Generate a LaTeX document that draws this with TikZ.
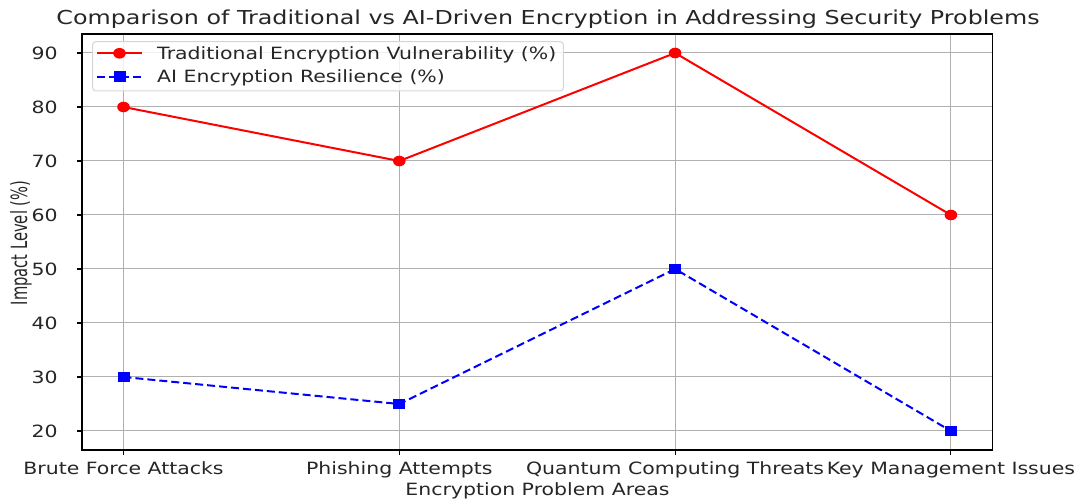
\documentclass[tikz,border=0pt]{standalone}
\usepackage{fontspec}
\setmainfont{DejaVu Sans}
\usepackage{graphicx}
\usetikzlibrary{positioning}

\definecolor{gridgray}{RGB}{176,176,176}
\definecolor{legendedge}{RGB}{214,214,214}
\tikzset{
  gridline/.style={draw=gridgray, line width=1pt},
  frameline/.style={draw=black, line width=1.3pt},
  tickmark/.style={draw=black, line width=1.1pt},
  trad/.style={draw=red, line width=2pt},
  res/.style={draw=blue, line width=2pt, dash pattern=on 8pt off 4pt},
  ticklab/.style={font=\fontsize{16.9}{20}\selectfont, text=black!85, inner sep=0pt, xscale=1.21},
  ylablab/.style={font=\fontsize{16.9}{20}\selectfont, text=black!85, inner sep=0pt, xscale=1.15, rotate=90},
  titlelab/.style={font=\fontsize{19.2}{23}\selectfont, text=black!85, inner sep=0pt, xscale=1.24},
}

\begin{document}
\begin{tikzpicture}[x=1pt, y=1pt]
\useasboundingbox (0,0) rectangle (1076,498);
\begin {scope} [xshift=123.5pt, yshift=-41pt, x=275.8pt, y=5.4pt]
  % grid
  \draw [gridline] (0,16.5) -- (0,93.5);
  \draw [gridline] (1,16.5) -- (1,93.5);
  \draw [gridline] (2,16.5) -- (2,93.5);
  \draw [gridline] (3,16.5) -- (3,93.5);
  \draw [gridline] (-0.15,20) -- (3.15,20);
  \draw [gridline] (-0.15,30) -- (3.15,30);
  \draw [gridline] (-0.15,40) -- (3.15,40);
  \draw [gridline] (-0.15,50) -- (3.15,50);
  \draw [gridline] (-0.15,60) -- (3.15,60);
  \draw [gridline] (-0.15,70) -- (3.15,70);
  \draw [gridline] (-0.15,80) -- (3.15,80);
  \draw [gridline] (-0.15,90) -- (3.15,90);
  \draw [frameline] (-0.15,16.5) rectangle (3.15,93.5);
  % y ticks
  \draw [tickmark] (-0.15,20) -- ++(-5pt,0) node [ticklab, anchor=east, xshift=-15.5pt] (y20) {20};
  \draw [tickmark] (-0.15,30) -- ++(-5pt,0) node [ticklab, anchor=east, xshift=-15.5pt] (y30) {30};
  \draw [tickmark] (-0.15,40) -- ++(-5pt,0) node [ticklab, anchor=east, xshift=-15.5pt] (y40) {40};
  \draw [tickmark] (-0.15,50) -- ++(-5pt,0) node [ticklab, anchor=east, xshift=-15.5pt] (y50) {50};
  \draw [tickmark] (-0.15,60) -- ++(-5pt,0) node [ticklab, anchor=east, xshift=-15.5pt] (y60) {60};
  \draw [tickmark] (-0.15,70) -- ++(-5pt,0) node [ticklab, anchor=east, xshift=-15.5pt] (y70) {70};
  \draw [tickmark] (-0.15,80) -- ++(-5pt,0) node [ticklab, anchor=east, xshift=-15.5pt] (y80) {80};
  \draw [tickmark] (-0.15,90) -- ++(-5pt,0) node [ticklab, anchor=east, xshift=-15.5pt] (y90) {90};
  % x ticks
  \draw [tickmark] (0,16.5) -- ++(0,-5pt);
  \draw [tickmark] (1,16.5) -- ++(0,-5pt);
  \draw [tickmark] (2,16.5) -- ++(0,-5pt);
  \draw [tickmark] (3,16.5) -- ++(0,-5pt);
  \node [ticklab, anchor=base] (brute) at ([yshift=-24.4pt]0,16.5) {Brute Force Attacks};
  \node [ticklab, anchor=base] (phish) at ([yshift=-24.4pt]1,16.5) {Phishing Attempts};
  \node [ticklab, anchor=base] (quant) at ([yshift=-24.4pt]2,16.5) {Quantum Computing Threats};
  \node [ticklab, anchor=base] (keymg) at ([yshift=-24.4pt]3,16.5) {Key Management Issues};
  % data
  \coordinate (t1) at (0,80);
  \coordinate (t2) at (1,70);
  \coordinate (t3) at (2,90);
  \coordinate (t4) at (3,60);
  \coordinate (a1) at (0,30);
  \coordinate (a2) at (1,25);
  \coordinate (a3) at (2,50);
  \coordinate (a4) at (3,20);
  \draw [trad] (t1) -- (t2) -- (t3) -- (t4);
  \draw [res] (a1) -- (a2) -- (a3) -- (a4);
  \fill [red] (t1) ellipse (6.3pt and 5.3pt);
  \fill [red] (t2) ellipse (6.3pt and 5.3pt);
  \fill [red] (t3) ellipse (6.3pt and 5.3pt);
  \fill [red] (t4) ellipse (6.3pt and 5.3pt);
  \fill [blue] ([shift={(-6pt,-5.2pt)}]a1) rectangle ++(12pt,10.4pt);
  \fill [blue] ([shift={(-6pt,-5.2pt)}]a2) rectangle ++(12pt,10.4pt);
  \fill [blue] ([shift={(-6pt,-5.2pt)}]a3) rectangle ++(12pt,10.4pt);
  \fill [blue] ([shift={(-6pt,-5.2pt)}]a4) rectangle ++(12pt,10.4pt);
\end {scope}
% legend
\draw [legendedge, fill=white, fill opacity=0.8, rounded corners=3pt, line width=1pt] (92.7,407) rectangle (563.3,456.3);
\coordinate (l1a) at (97,444.7);
\coordinate (l1b) at (142,444.7);
\coordinate (l2a) at (97,421.3);
\coordinate (l2b) at (142,421.3);
\draw [trad] (l1a) -- (l1b);
\fill [red] (119.5,444.7) ellipse (6.3pt and 5.3pt);
\draw [res] (l2a) -- (l2b);
\fill [blue] (113.5,416.1) rectangle ++(12pt,10.4pt);
\node [ticklab, anchor=base west] (leg1) at (157,438.5) {Traditional Encryption Vulnerability (\%)};
\node [ticklab, anchor=base west] (leg2) at (157,415) {AI Encryption Resilience (\%)};
% labels
\node [ticklab, anchor=base] (xlab) at (537.5,3) {Encryption Problem Areas};
\node [ylablab] (ylab) at (21,255) {\scalebox{1}[1.15]{\scalebox{0.87}[1]{Impact Level (\%)}}};
\node [titlelab, anchor=base] (title) at (548,473) {Comparison of Traditional vs AI-Driven Encryption in Addressing Security Problems};
\end{tikzpicture}
\end{document}
